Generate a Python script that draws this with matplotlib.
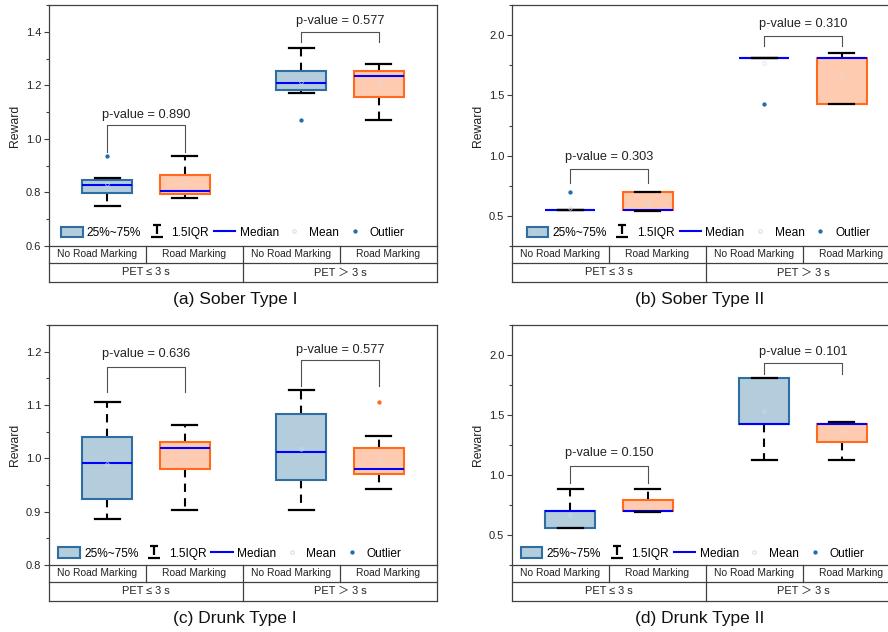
import matplotlib
matplotlib.use("Agg")
import matplotlib.pyplot as plt
from matplotlib.lines import Line2D
from matplotlib.patches import Patch
from matplotlib.path import Path
from matplotlib.ticker import MultipleLocator

plt.rcParams["font.family"] = ["Liberation Sans", "Noto Sans CJK SC", "DejaVu Sans"]

categories = ["No Road Marking", "Road Marking", "No Road Marking", "Road Marking"]
pet_groups = ["PET ≤ 3 s", "PET ＞ 3 s"]
titles = ["(a) Sober Type I", "(b) Sober Type II", "(c) Drunk Type I", "(d) Drunk Type II"]

# whislo, q1, median, q3, whishi for each box
sober1_box = [[0.748, 0.799, 0.826, 0.845, 0.854],
              [0.780, 0.796, 0.806, 0.864, 0.935],
              [1.170, 1.184, 1.210, 1.253, 1.339],
              [1.069, 1.156, 1.236, 1.255, 1.280]]
sober1_mean = [0.830, 0.834, 1.212, 1.210]
sober1_out = [[0.935], [], [1.069], []]
sober1_p = ["0.890", "0.577"]

sober2_box = [[0.547, 0.547, 0.547, 0.547, 0.547],
              [0.542, 0.547, 0.547, 0.694, 0.694],
              [1.811, 1.811, 1.811, 1.811, 1.811],
              [1.426, 1.426, 1.811, 1.811, 1.850]]
sober2_mean = [0.569, 0.610, 1.767, 1.670]
sober2_out = [[0.694], [], [1.426], []]
sober2_p = ["0.303", "0.310"]

drunk1_box = [[0.886, 0.923, 0.992, 1.040, 1.105],
              [0.904, 0.980, 1.020, 1.031, 1.062],
              [0.904, 0.960, 1.011, 1.083, 1.128],
              [0.942, 0.970, 0.980, 1.020, 1.041]]
drunk1_mean = [0.990, 1.005, 1.017, 0.998]
drunk1_out = [[], [], [], [1.105]]
drunk1_p = ["0.636", "0.577"]

drunk2_box = [[0.555, 0.555, 0.702, 0.702, 0.885],
              [0.690, 0.702, 0.702, 0.793, 0.885],
              [1.124, 1.424, 1.424, 1.806, 1.806],
              [1.124, 1.274, 1.424, 1.424, 1.443]]
drunk2_mean = [0.669, 0.740, 1.535, 1.355]
drunk2_out = [[], [], [], []]
drunk2_p = ["0.150", "0.101"]

# layout per panel: axes rect (px), ylim, major step, legend anchor,
# brackets (top, leg bottom, text y), title centre (px)
W, H = 888, 632
layout = [
    dict(rect=(49, 5, 388, 241), ylim=(0.6, 1.5), step=0.2, leg=(0.031, 0.054),
         br=[(1.0525, 0.95, 1.09), (1.40, 1.3625, 1.44)], title=(235, 299)),
    dict(rect=(512, 5, 388, 241), ylim=(0.25, 2.25), step=0.5, leg=(0.038, 0.054),
         br=[(0.891, 0.774, 0.985), (1.995, 1.906, 2.09)], title=(700, 299)),
    dict(rect=(49, 325, 388, 240), ylim=(0.8, 1.25), step=0.1, leg=(0.024, 0.048),
         br=[(1.171, 1.1245, 1.196), (1.184, 1.136, 1.204)], title=(235, 618)),
    dict(rect=(512, 325, 388, 240), ylim=(0.25, 2.25), step=0.5, leg=(0.023, 0.048),
         br=[(1.079, 0.935, 1.18), (1.93, 1.84, 2.025)], title=(700, 618)),
]

panels = [(sober1_box, sober1_mean, sober1_out, sober1_p),
          (sober2_box, sober2_mean, sober2_out, sober2_p),
          (drunk1_box, drunk1_mean, drunk1_out, drunk1_p),
          (drunk2_box, drunk2_mean, drunk2_out, drunk2_p)]

positions = [0.6, 1.4, 2.6, 3.4]
blue_fill, blue_edge = "#b4cddd", "#2e6ea3"
orange_fill, orange_edge = "#ffcbb0", "#ff6a1c"
blue_dot, orange_dot = "#1f6fb0", "#ff6a1c"
frame = "#404040"

# legend symbol for the 1.5IQR whisker cap
iqr_marker = Path([(-0.65, 1), (0.65, 1), (0, 1), (0, -0.5), (-0.9, -1), (0.9, -1)],
                  [Path.MOVETO, Path.LINETO, Path.MOVETO, Path.LINETO, Path.MOVETO, Path.LINETO])


def draw_table(ax, r1=-0.0705, r2=-0.149):
    kw = dict(transform=ax.transAxes, color=frame, lw=0.9, clip_on=False)
    ax.plot([0, 0], [0, r2], **kw)
    ax.plot([1, 1], [0, r2], **kw)
    ax.plot([0, 1], [r1, r1], **kw)
    ax.plot([0, 1], [r2, r2], **kw)
    for xv in (0.25, 0.75):
        ax.plot([xv, xv], [0, r1], **kw)
    ax.plot([0.5, 0.5], [0, r2], **kw)
    for i, c in enumerate(categories):
        ax.text(0.125 + 0.25 * i, r1 / 2, c, transform=ax.transAxes,
                ha="center", va="center", fontsize=7.4, color="#222222")
    for i, g in enumerate(pet_groups):
        ax.text(0.25 + 0.5 * i, (r1 + r2) / 2, g, transform=ax.transAxes,
                ha="center", va="center", fontsize=7.9, color="#222222")


fig = plt.figure(figsize=(W / 100, H / 100), dpi=100)

for k, ((box, mean, out, pv), lay) in enumerate(zip(panels, layout)):
    x0, y0, w, h = lay["rect"]
    ax = fig.add_axes([x0 / W, 1 - (y0 + h) / H, w / W, h / H])

    for i in range(4):
        is_blue = i % 2 == 0
        lo, q1, med, q3, hi = box[i]
        stats = [dict(whislo=lo, q1=q1, med=med, q3=q3, whishi=hi,
                      mean=mean[i], fliers=out[i])]
        dot = blue_dot if (is_blue or k != 2) else orange_dot
        ax.bxp(stats, positions=[positions[i]], widths=0.52, capwidths=0.26,
               patch_artist=True, showmeans=True, manage_ticks=False,
               boxprops=dict(facecolor=blue_fill if is_blue else orange_fill,
                             edgecolor=blue_edge if is_blue else orange_edge,
                             linewidth=1.5, zorder=2),
               whiskerprops=dict(color="black", linewidth=1.5,
                                 linestyle=(0, (4, 3)), zorder=1.8),
               capprops=dict(color="black", linewidth=1.6, zorder=4),
               medianprops=dict(color="#0000ff", linewidth=1.5, zorder=3),
               flierprops=dict(marker="o", markersize=2.1, markerfacecolor=dot,
                               markeredgecolor=dot, linestyle="none", zorder=5),
               meanprops=dict(marker="o", markersize=2.5, markerfacecolor="none",
                              markeredgecolor="#d3dfe9", markeredgewidth=0.5,
                              zorder=5))

    # p-value brackets
    for j, (top, leg, ty) in enumerate(lay["br"]):
        xa, xb = positions[2 * j], positions[2 * j + 1]
        ax.plot([xa, xa, xb, xb], [leg, top, top, leg], color="#505050", lw=0.8)
        ax.text((xa + xb) / 2, ty, "p-value = " + pv[j], ha="center", va="center",
                fontsize=9.2, color="#222222")

    ax.set_xlim(0, 4)
    ax.set_ylim(*lay["ylim"])
    ax.yaxis.set_major_locator(MultipleLocator(lay["step"]))
    ax.yaxis.set_minor_locator(MultipleLocator(lay["step"] / 2))
    ax.yaxis.set_major_formatter(plt.FormatStrFormatter("%.1f"))
    ax.set_xticks([])
    ax.tick_params(axis="y", which="major", direction="out", length=3.5, width=0.8,
                   labelsize=8, colors=frame, labelcolor="#222222", pad=2)
    ax.tick_params(axis="y", which="minor", direction="out", length=2, width=0.8,
                   colors=frame)
    for s in ax.spines.values():
        s.set_color(frame)
        s.set_linewidth(0.9)
    ax.set_ylabel("Reward", fontsize=8.8, color="#222222")
    ax.yaxis.set_label_coords(-0.072, 0.5)

    handles = [
        Patch(facecolor=blue_fill, edgecolor=blue_edge, linewidth=1.5),
        Line2D([], [], marker=iqr_marker, markersize=9, markeredgewidth=1.6,
               color="black", linestyle="none"),
        Line2D([], [], color="#0000ff", linewidth=1.5),
        Line2D([], [], marker="o", markersize=2.5, markerfacecolor="none",
               markeredgecolor="#c8d6e3", markeredgewidth=0.6, linestyle="none"),
        Line2D([], [], marker="o", markersize=2.1, color=blue_dot, linestyle="none"),
    ]
    ax.legend(handles, ["25%~75%", "1.5IQR", "Median", "Mean", "Outlier"],
              loc="center left", bbox_to_anchor=lay["leg"], ncol=5, frameon=False,
              fontsize=8.6, handlelength=1.8, handleheight=1.0, handletextpad=0.35,
              columnspacing=0.4, borderpad=0, borderaxespad=0)

    draw_table(ax)

    tx, ty = lay["title"]
    fig.text(tx / W, 1 - ty / H, titles[k], ha="center", va="center",
             fontsize=12.5, color="#111111")

fig.savefig("out.png", dpi=100)
